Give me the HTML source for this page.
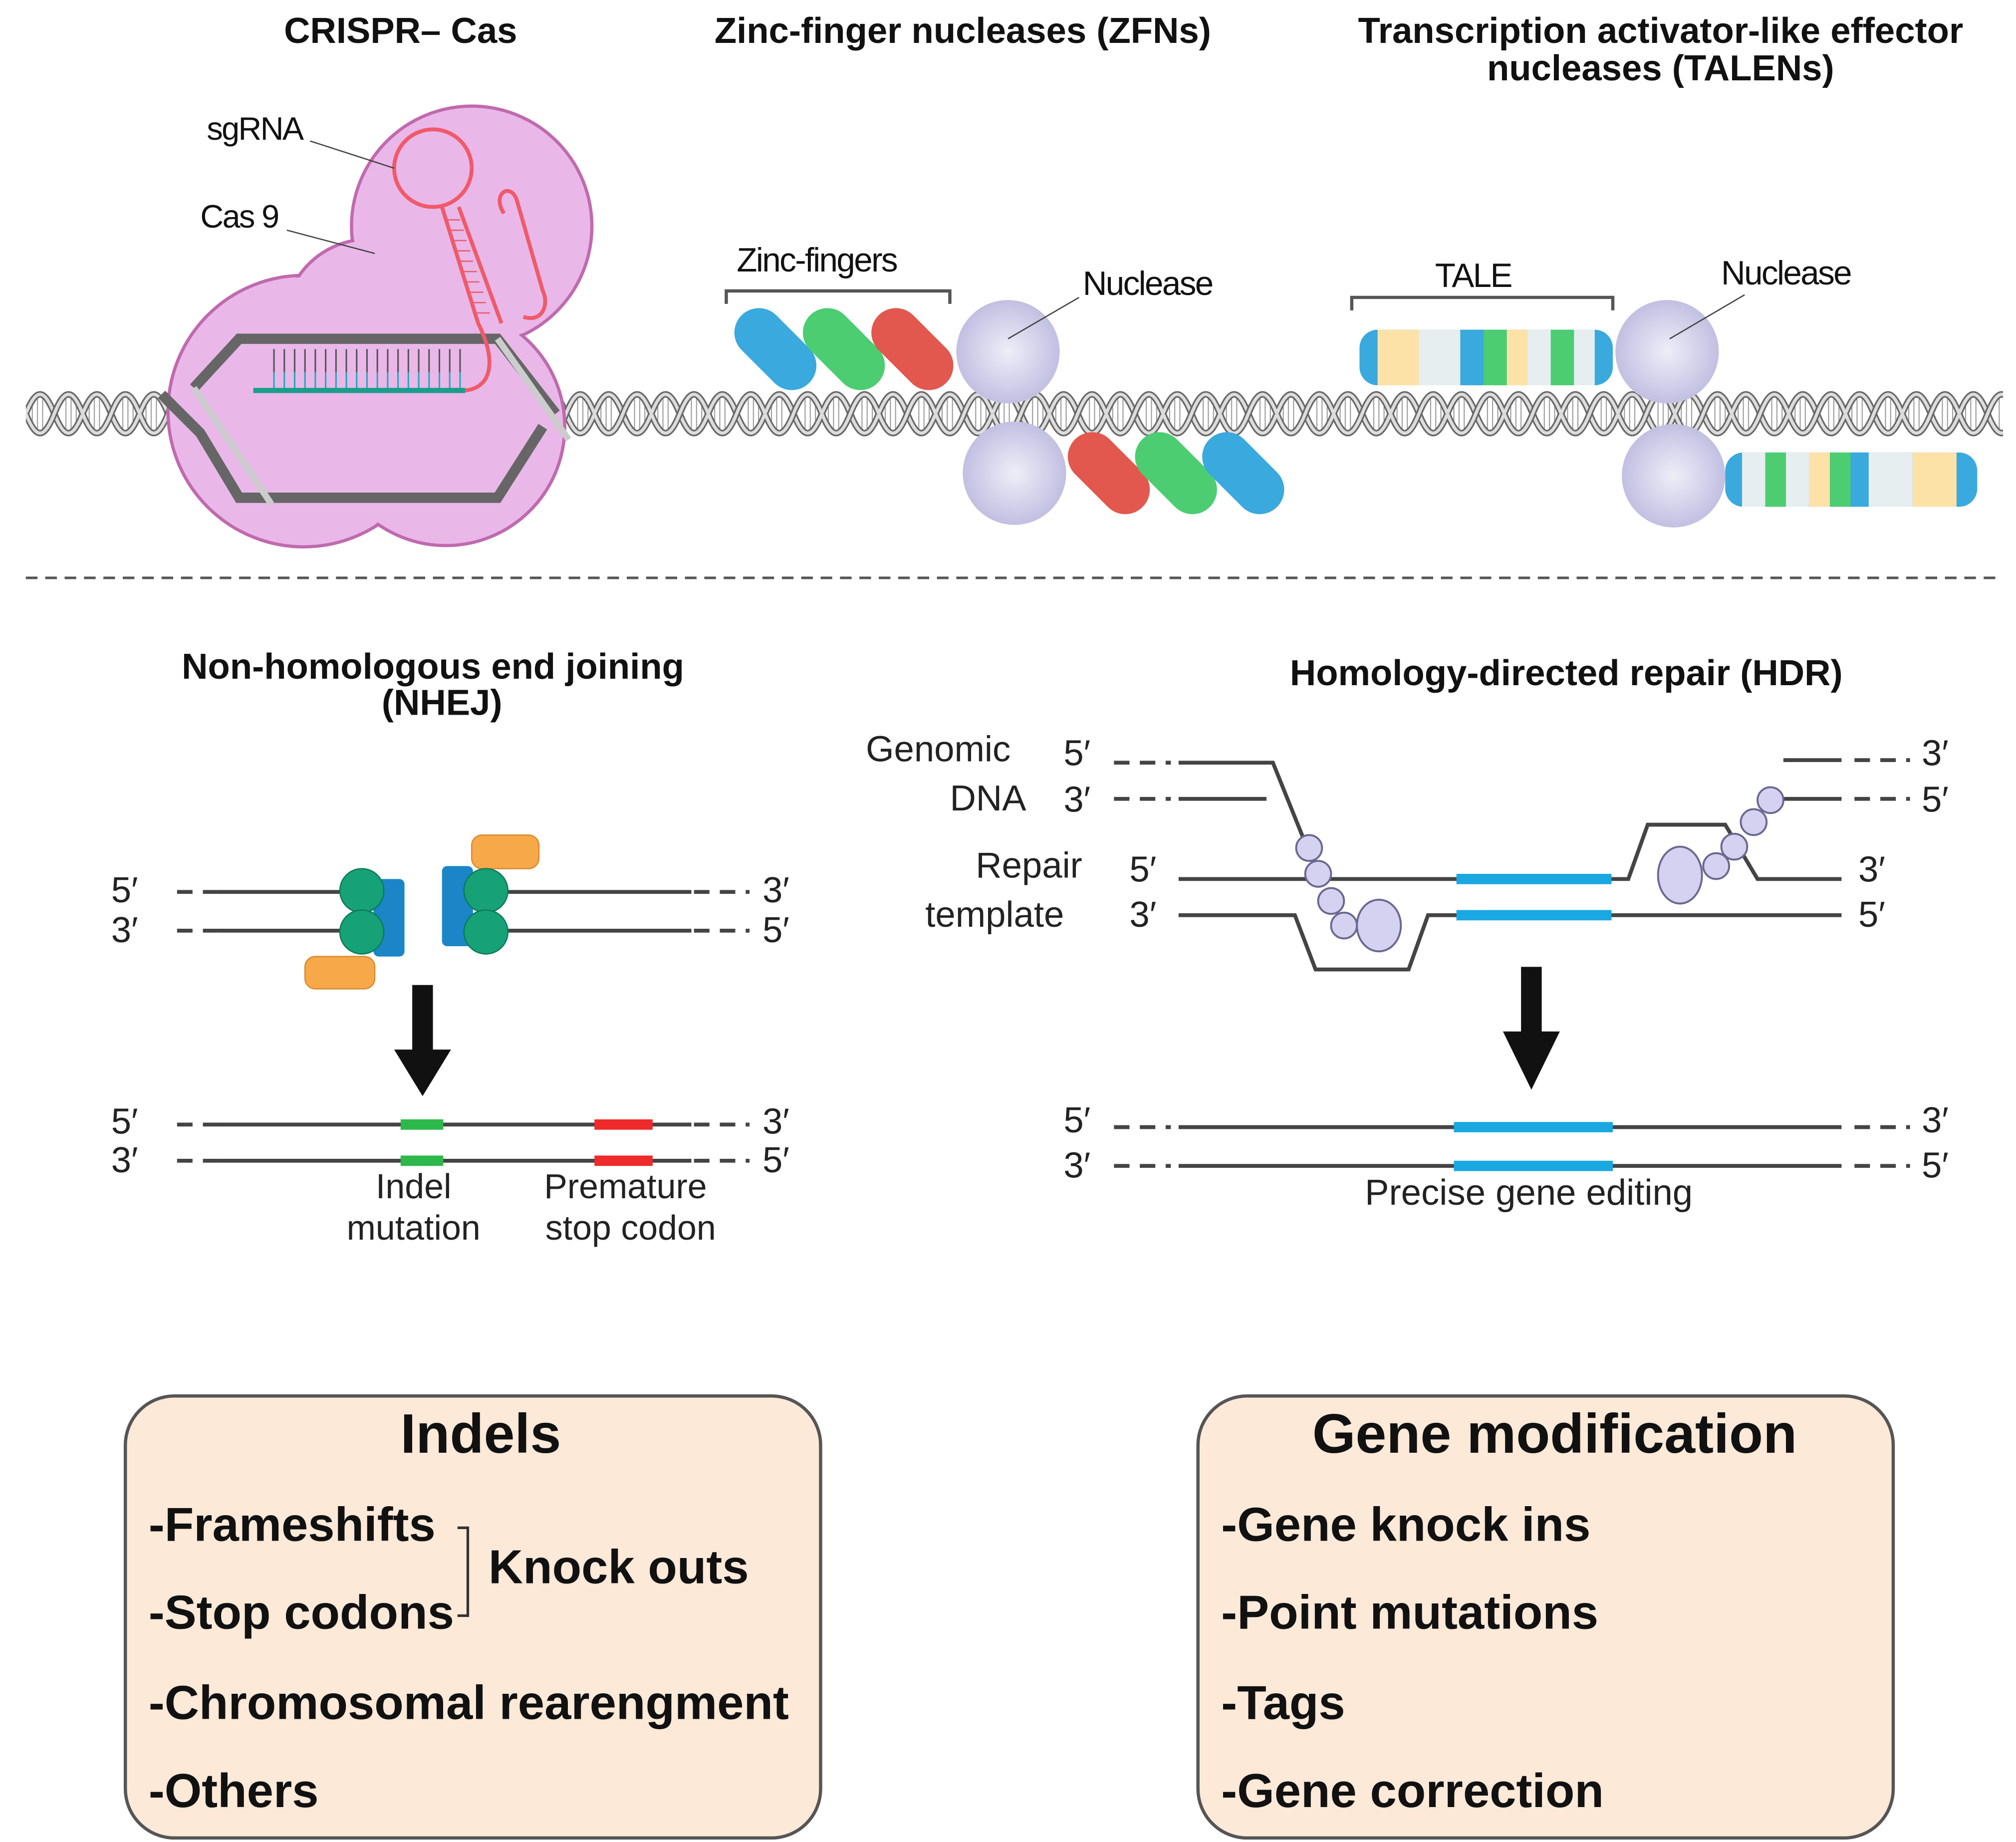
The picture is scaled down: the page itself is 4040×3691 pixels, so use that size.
<!DOCTYPE html>
<html><head><meta charset="utf-8"><style>html,body{margin:0;padding:0;background:#fff}svg{display:block}</style></head><body>
<svg width="4040" height="3691" viewBox="0 0 1560 1425" xmlns="http://www.w3.org/2000/svg" font-family="Liberation Sans, Arial, sans-serif">
<defs>
<pattern id="hx" patternUnits="userSpaceOnUse" x="20" y="300" width="44" height="40">
<g stroke="#999" stroke-width="0.8">
<line x1="5" y1="6" x2="5" y2="34"/><line x1="9" y1="4" x2="9" y2="36"/><line x1="13" y1="6" x2="13" y2="34"/><line x1="31" y1="6" x2="31" y2="34"/><line x1="35" y1="4" x2="35" y2="36"/><line x1="39" y1="6" x2="39" y2="34"/>
</g>
<path d="M0 20 C8 0,14 0,22 20 S36 40,44 20" fill="none" stroke="#666" stroke-width="5"/>
<path d="M0 20 C8 0,14 0,22 20 S36 40,44 20" fill="none" stroke="#ddd" stroke-width="2.5"/>
<path d="M0 20 C8 40,14 40,22 20 S36 0,44 20" fill="none" stroke="#666" stroke-width="5"/>
<path d="M0 20 C8 40,14 40,22 20 S36 0,44 20" fill="none" stroke="#ddd" stroke-width="2.5"/>
</pattern>
<radialGradient id="nu" cx="0.5" cy="0.5" r="0.6"><stop offset="0" stop-color="#eeeef8"/><stop offset="1" stop-color="#b9b6dd"/></radialGradient>
</defs>

<g font-weight="bold" font-size="28" text-anchor="middle" fill="#111">
<text x="310" y="33">CRISPR– Cas</text>
<text x="745" y="33">Zinc-finger nucleases (ZFNs)</text>
<text x="1285" y="33">Transcription activator-like effector</text>
<text x="1285" y="62">nucleases (TALENs)</text>
</g>

<rect x="20" y="300" width="140" height="40" fill="url(#hx)"/>
<rect x="400" y="300" width="1150" height="40" fill="url(#hx)"/>

<g fill="#e9b8e9" stroke="#c06aae" stroke-width="2.5">
<circle cx="365" cy="175" r="93"/>
<circle cx="235" cy="318" r="105"/>
<circle cx="345" cy="330" r="92"/>
<circle cx="285" cy="250" r="65"/>
</g>
<g fill="#e9b8e9">
<circle cx="365" cy="175" r="91.5"/><circle cx="235" cy="318" r="103.5"/><circle cx="345" cy="330" r="90.5"/><circle cx="285" cy="250" r="63.5"/><circle cx="300" cy="300" r="80"/>
</g>
<path d="M125 305 L155 335 L185 385 L385 385 L420 330" fill="none" stroke="#666" stroke-width="8"/>
<path d="M150 300 L185 262 L385 262 L430 320" fill="none" stroke="#666" stroke-width="8"/>
<path d="M385 262 L440 340" fill="none" stroke="#ccc" stroke-width="5"/>
<path d="M150 300 L210 390" fill="none" stroke="#ccc" stroke-width="5"/>
<g stroke="#555" stroke-width="1.2"><path d="M212 270v18M220 270v18M228 270v18M236 270v18M244 270v18M252 270v18M260 270v18M268 270v18M276 270v18M284 270v18M292 270v18M300 270v18M308 270v18M316 270v18M324 270v18M332 270v18M340 270v18M348 270v18M356 270v18"/></g>
<g stroke="#2ab" stroke-width="1.2"><path d="M212 288v14M220 288v14M228 288v14M236 288v14M244 288v14M252 288v14M260 288v14M268 288v14M276 288v14M284 288v14M292 288v14M300 288v14M308 288v14M316 288v14M324 288v14M332 288v14M340 288v14M348 288v14M356 288v14"/></g>
<line x1="196" y1="302" x2="360" y2="302" stroke="#1a9e8a" stroke-width="4"/>
<g fill="none" stroke="#f05a6a" stroke-width="3">
<path d="M360 302 C380 300 385 280 370 250 L342 160"/>
<path d="M355 160 L388 250"/>
<circle cx="335" cy="130" r="30"/>
<path d="M405 245 C420 250 425 235 420 225 L400 155 C395 140 380 150 390 165"/>
</g>
<g stroke="#f05a6a" stroke-width="1"><path d="M346 170h10M349 178h10M351 186h10M354 194h10M356 202h10M359 210h10M361 218h10M364 226h10M366 234h10M369 242h10"/></g>
<g font-size="25" fill="#111" letter-spacing="-1"><text x="160" y="108">sgRNA</text><text x="155" y="176">Cas 9</text></g>
<g stroke="#444" stroke-width="1"><line x1="240" y1="109" x2="305" y2="130"/><line x1="222" y1="178" x2="290" y2="196"/></g>

<text x="632" y="210" font-size="26" text-anchor="middle" letter-spacing="-1" fill="#111">Zinc-fingers</text>
<path d="M562 235 V225 H735 V235" fill="none" stroke="#555" stroke-width="2.5"/>
<g transform="rotate(45 600 270)"><rect x="563" y="251" width="74" height="38" rx="19" fill="#3aa9dd"/></g>
<g transform="rotate(45 653 270)"><rect x="616" y="251" width="74" height="38" rx="19" fill="#4ccd72"/></g>
<g transform="rotate(45 706 270)"><rect x="669" y="251" width="74" height="38" rx="19" fill="#e2584e"/></g>
<circle cx="780" cy="272" r="40" fill="url(#nu)"/>
<circle cx="785" cy="366" r="40" fill="url(#nu)"/>
<text x="888" y="228" font-size="26" text-anchor="middle" letter-spacing="-1" fill="#111">Nuclease</text>
<line x1="835" y1="230" x2="780" y2="262" stroke="#444" stroke-width="1"/>
<g transform="rotate(45 858 366)"><rect x="821" y="347" width="74" height="38" rx="19" fill="#e2584e"/></g>
<g transform="rotate(45 910 366)"><rect x="873" y="347" width="74" height="38" rx="19" fill="#4ccd72"/></g>
<g transform="rotate(45 962 366)"><rect x="925" y="347" width="74" height="38" rx="19" fill="#3aa9dd"/></g>

<text x="1140" y="222" font-size="26" text-anchor="middle" letter-spacing="-1" fill="#111">TALE</text>
<path d="M1046 240 V230 H1248 V240" fill="none" stroke="#555" stroke-width="2.5"/>
<g>
<rect x="1052" y="255" width="196" height="43" rx="14" fill="#3aa9dd"/>
<rect x="1066" y="255" width="32" height="43" fill="#fde2a8"/>
<rect x="1098" y="255" width="32" height="43" fill="#e6eef0"/>
<rect x="1130" y="255" width="18" height="43" fill="#3aa9dd"/>
<rect x="1148" y="255" width="18" height="43" fill="#4ccd72"/>
<rect x="1166" y="255" width="16" height="43" fill="#fde2a8"/>
<rect x="1182" y="255" width="18" height="43" fill="#e6eef0"/>
<rect x="1200" y="255" width="18" height="43" fill="#4ccd72"/>
<rect x="1218" y="255" width="16" height="43" fill="#e6eef0"/>
</g>
<circle cx="1290" cy="272" r="40" fill="url(#nu)"/>
<circle cx="1295" cy="368" r="40" fill="url(#nu)"/>
<text x="1382" y="220" font-size="26" text-anchor="middle" letter-spacing="-1" fill="#111">Nuclease</text>
<line x1="1350" y1="228" x2="1292" y2="262" stroke="#444" stroke-width="1"/>
<g>
<rect x="1335" y="350" width="195" height="42" rx="14" fill="#3aa9dd"/>
<rect x="1348" y="350" width="18" height="42" fill="#e6eef0"/>
<rect x="1366" y="350" width="16" height="42" fill="#4ccd72"/>
<rect x="1382" y="350" width="18" height="42" fill="#e6eef0"/>
<rect x="1400" y="350" width="16" height="42" fill="#fde2a8"/>
<rect x="1416" y="350" width="16" height="42" fill="#4ccd72"/>
<rect x="1432" y="350" width="14" height="42" fill="#3aa9dd"/>
<rect x="1446" y="350" width="34" height="42" fill="#e6eef0"/>
<rect x="1480" y="350" width="34" height="42" fill="#fde2a8"/>
</g>

<line x1="20" y1="447" x2="1550" y2="447" stroke="#555" stroke-width="2" stroke-dasharray="9 6"/>

<g font-weight="bold" font-size="28" text-anchor="middle" fill="#111">
<text x="335" y="525">Non-homologous end joining</text><text x="342" y="553">(NHEJ)</text>
<text x="1212" y="530">Homology-directed repair (HDR)</text>
</g>
<g font-size="28" fill="#222">
<text x="86" y="698">5′</text><text x="86" y="729">3′</text><text x="590" y="698">3′</text><text x="590" y="729">5′</text>
<text x="86" y="877">5′</text><text x="86" y="907">3′</text><text x="590" y="877">3′</text><text x="590" y="907">5′</text>
</g>
<g stroke="#444" stroke-width="3">
<path d="M137 690H580M137 720H580M137 870H580M137 898H580" stroke-dasharray="12 8"/>
</g>
<g stroke="#fff" stroke-width="5"><path d="M168 690H535M168 720H535M168 870H535M168 898H535"/></g>
<g stroke="#444" stroke-width="3"><path d="M168 690H290M360 690H535M168 720H290M360 720H535M168 870H535M168 898H535"/></g>
<rect x="236" y="740" width="54" height="25" rx="8" fill="#f7a94a" stroke="#d98a30"/>
<rect x="365" y="646" width="52" height="26" rx="8" fill="#f7a94a" stroke="#d98a30"/>
<rect x="289" y="680" width="24" height="60" rx="4" fill="#1a86c8"/>
<rect x="342" y="670" width="24" height="62" rx="4" fill="#1a86c8"/>
<g fill="#16a276" stroke="#0d7a58"><circle cx="280" cy="689" r="17"/><circle cx="280" cy="721" r="17"/><circle cx="376" cy="689" r="17"/><circle cx="376" cy="721" r="17"/></g>
<path d="M319 762h16v50h14l-22 36l-22-36h14z" fill="#111"/>
<g stroke-width="8"><path d="M310 870h33M310 898h33" stroke="#2cb84a"/><path d="M460 870h45M460 898h45" stroke="#ee2a2a"/></g>
<g font-size="27" fill="#222" text-anchor="middle"><text x="320" y="927">Indel</text><text x="320" y="959">mutation</text><text x="484" y="927">Premature</text><text x="488" y="959">stop codon</text></g>

<g font-size="28" fill="#222">
<text x="670" y="589">Genomic</text><text x="735" y="627">DNA</text>
<text x="755" y="679">Repair</text><text x="716" y="717">template</text>
<text x="823" y="592">5′</text><text x="823" y="628">3′</text><text x="874" y="682">5′</text><text x="874" y="717">3′</text>
<text x="1487" y="592">3′</text><text x="1487" y="628">5′</text><text x="1438" y="682">3′</text><text x="1438" y="717">5′</text>
<text x="823" y="876">5′</text><text x="823" y="911">3′</text><text x="1487" y="876">3′</text><text x="1487" y="911">5′</text>
</g>
<g stroke="#444" stroke-width="3" fill="none">
<path d="M862 590H906M862 618H906M1435 588H1478M1435 618H1478M862 872H906M862 902H906M1435 872H1478M1435 902H1478" stroke-dasharray="12 8"/>
<path d="M912 590H985L1018 672"/>
<path d="M912 618H980"/>
<path d="M1380 588H1425"/>
<path d="M1380 618H1425"/>
<path d="M912 680H1260L1275 638H1335L1360 680H1425"/>
<path d="M912 708H1002L1018 750H1090L1105 708H1425"/>
<path d="M912 872H1425M912 902H1425"/>
</g>
<g stroke="#1aa8e0" stroke-width="8"><path d="M1127 680H1247M1127 708H1247M1125 872H1248M1125 902H1248"/></g>
<g fill="#d4d2f0" stroke="#6a6890" stroke-width="1.5">
<circle cx="1013" cy="656" r="10"/><circle cx="1020" cy="676" r="10"/><circle cx="1030" cy="697" r="10"/><circle cx="1040" cy="716" r="10"/><ellipse cx="1067" cy="716" rx="17" ry="20"/>
<ellipse cx="1300" cy="677" rx="17" ry="22"/><circle cx="1328" cy="670" r="10"/><circle cx="1342" cy="655" r="10"/><circle cx="1357" cy="636" r="10"/><circle cx="1370" cy="619" r="10"/>
</g>
<path d="M1177 748h16v50h14l-22 45l-22-45h14z" fill="#111"/>
<text x="1183" y="932" font-size="28" fill="#222" text-anchor="middle">Precise gene editing</text>

<rect x="97" y="1080" width="538" height="342" rx="38" fill="#fde9d8" stroke="#555" stroke-width="2.5"/>
<rect x="927" y="1080" width="538" height="342" rx="38" fill="#fde9d8" stroke="#555" stroke-width="2.5"/>
<g font-weight="bold" fill="#111">
<text x="372" y="1124" font-size="43" text-anchor="middle">Indels</text>
<text x="1203" y="1124" font-size="43" text-anchor="middle">Gene modification</text>
<g font-size="37">
<text x="115" y="1192">-Frameshifts</text><text x="115" y="1260">-Stop codons</text><text x="115" y="1330">-Chromosomal rearengment</text><text x="115" y="1398">-Others</text>
<text x="378" y="1225">Knock outs</text>
<text x="945" y="1192">-Gene knock ins</text><text x="945" y="1260">-Point mutations</text><text x="945" y="1330">-Tags</text><text x="945" y="1398">-Gene correction</text>
</g>
</g>
<path d="M354 1182H362V1250H354" fill="none" stroke="#333" stroke-width="2"/>
</svg>
</body></html>
